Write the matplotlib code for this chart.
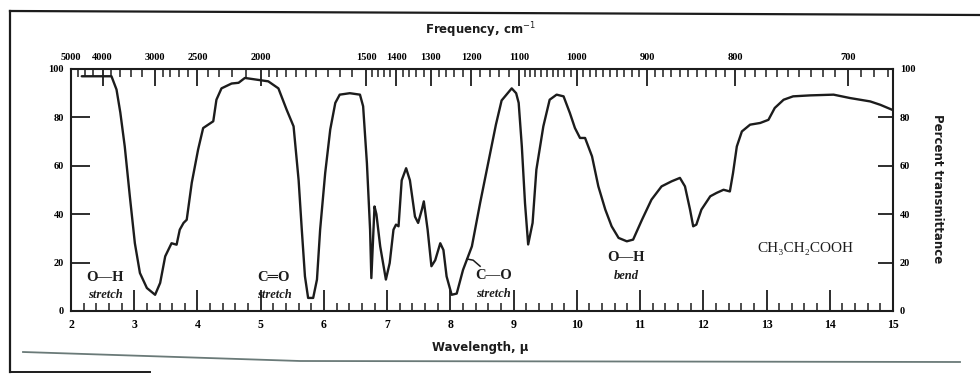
import numpy as np
import matplotlib
matplotlib.use("Agg")
import matplotlib.pyplot as plt
from matplotlib.lines import Line2D

# IR spectrum of propanoic acid
wavelength = [
    2.17, 2.40, 2.64, 2.72, 2.78, 2.85, 2.93, 3.01, 3.09, 3.20,
    3.33, 3.41, 3.49, 3.59, 3.67, 3.72, 3.78, 3.83, 3.91, 4.01,
    4.09, 4.17, 4.25, 4.30, 4.38, 4.54, 4.65, 4.75, 4.94, 5.12,
    5.28, 5.41, 5.52, 5.60, 5.65, 5.70, 5.75, 5.83, 5.89, 5.94,
    6.02, 6.10, 6.18, 6.25, 6.41, 6.57, 6.62, 6.68, 6.73, 6.75,
    6.80, 6.83, 6.89, 6.98, 7.04, 7.10, 7.14, 7.18, 7.23, 7.30,
    7.36, 7.44, 7.49, 7.55, 7.58, 7.64, 7.70, 7.76, 7.84, 7.89,
    7.94, 8.02, 8.10, 8.20, 8.34, 8.47, 8.63, 8.72, 8.81, 8.97,
    9.04, 9.08, 9.13, 9.18, 9.23, 9.30, 9.36, 9.47, 9.57, 9.68,
    9.79, 9.89, 9.97, 10.05, 10.13, 10.24, 10.34, 10.45, 10.55, 10.66,
    10.79, 10.89, 11.03, 11.18, 11.34, 11.50, 11.63, 11.71, 11.79, 11.84,
    11.89, 11.97, 12.11, 12.21, 12.32, 12.42, 12.47, 12.53, 12.61, 12.74,
    12.90, 13.03, 13.13, 13.27, 13.42, 13.69, 14.06, 14.32, 14.64, 14.80,
    15.0,
]
transmittance = [
    97.0, 97.0, 97.0, 91.5, 82.0, 68.0, 47.5, 28.0, 15.7, 9.5,
    6.7, 11.6, 22.6, 28.0, 27.4, 33.6, 36.4, 37.7, 53.0, 66.7,
    75.6, 77.0, 78.4, 87.3, 92.0, 94.0, 94.3, 96.3, 95.6, 94.9,
    92.0, 83.2, 76.3, 54.0, 33.6, 14.3, 5.4, 5.4, 13.0, 33.6,
    57.0, 75.0, 86.0, 89.4, 90.0, 89.4, 84.6, 61.0, 33.6, 13.6,
    43.2, 40.0, 26.7, 13.0, 19.8, 33.6, 35.7, 35.0, 54.0, 59.0,
    54.0, 39.0, 36.4, 42.0, 45.3, 33.6, 18.5, 21.0, 28.0, 25.2,
    14.3, 6.7, 7.2, 17.0, 26.7, 44.6, 65.3, 77.0, 87.0, 92.0,
    90.0, 86.0, 68.0, 44.6, 27.5, 36.4, 58.4, 76.3, 87.3, 89.4,
    88.7, 81.8, 75.6, 71.5, 71.5, 63.9, 51.5, 41.9, 35.0, 30.2,
    28.8, 29.5, 37.7, 46.0, 51.5, 53.6, 55.0, 51.5, 41.9, 35.0,
    35.7, 41.9, 47.4, 48.8, 50.1, 49.4, 57.0, 68.0, 74.2, 77.0,
    77.7, 79.0, 83.9, 87.3, 88.7, 89.1, 89.4, 88.0, 86.6, 85.2,
    83.0,
]

# top scale in wavenumbers
freq_major = [5000, 4000, 3000, 2500, 2000, 1500, 1400, 1300, 1200,
              1100, 1000, 900, 800, 700]
freq_minor = ([4750, 4500, 4250, 3800, 3600, 3400, 3200]
              + list(range(2900, 2500, -100)) + list(range(2400, 2000, -100))
              + list(range(1950, 1500, -50))
              + [1480, 1460, 1440, 1420, 1380, 1360, 1340, 1320,
                 1280, 1260, 1240, 1220, 1180, 1160, 1140, 1120]
              + list(range(1090, 1000, -10)) + list(range(990, 900, -10))
              + list(range(890, 800, -10)) + list(range(790, 700, -10))
              + [690, 680, 670])

ink = "#1c1c1c"
serif = ["Liberation Serif", "DejaVu Serif"]

fig = plt.figure(figsize=(9.8, 3.74), dpi=100)
fig.patch.set_facecolor("white")
W, H = 980, 374
ax = fig.add_axes([71 / W, 1 - 311 / H, (893 - 71) / W, (311 - 69) / H])

ax.plot(wavelength, transmittance, color=ink, lw=1.7,
        solid_joinstyle="round", solid_capstyle="round")
ax.set_xlim(2, 15)
ax.set_ylim(0, 100)

for s in ax.spines.values():
    s.set_linewidth(1.5)
    s.set_color(ink)

# bottom wavelength scale
ax.set_xticks(np.arange(2, 16, 1))
ax.set_xticks(np.arange(2, 15.01, 0.2), minor=True)
ax.tick_params(axis="x", which="major", direction="in", length=15, width=1.3,
               color=ink, pad=6, labelsize=8.5)
ax.tick_params(axis="x", which="minor", direction="in", length=6, width=1.1,
               color=ink)
for lab in ax.get_xticklabels():
    lab.set_fontfamily(serif)
    lab.set_fontweight("bold")

# percent transmittance on both sides
ax.set_yticks([0, 20, 40, 60, 80, 100])
ax.tick_params(axis="y", which="both", direction="in", length=14, width=1.3,
               color=ink, pad=5, labelsize=7.5, left=True, right=True,
               labelleft=True, labelright=True)
for lab in ax.get_yticklabels(which="both"):
    lab.set_fontfamily(serif)
    lab.set_fontweight("bold")
for t in ax.yaxis.get_major_ticks():
    t.tick2line.set_markersize(11)

# top frequency scale
top = ax.twiny()
top.set_xlim(ax.get_xlim())
top.set_xticks([1e4 / f for f in freq_major])
top.set_xticklabels([str(f) for f in freq_major])
top.set_xticks([1e4 / f for f in freq_minor], minor=True)
top.tick_params(axis="x", which="major", direction="in", length=12, width=1.3,
                color=ink, pad=5, labelsize=7.5)
top.tick_params(axis="x", which="minor", direction="in", length=6, width=1.1,
                color=ink)
for lab in top.get_xticklabels():
    lab.set_fontfamily(serif)
    lab.set_fontweight("bold")
for s in top.spines.values():
    s.set_visible(False)

fig.text(480 / W, 1 - 30 / H, "Frequency, cm$^{-1}$", ha="center", va="center",
         fontsize=8.5, fontweight="bold", color=ink, family="DejaVu Sans")
fig.text(480 / W, 1 - 347 / H, "Wavelength, \u03bc", ha="center", va="center",
         fontsize=8.5, fontweight="bold", color=ink, family="DejaVu Sans")
fig.text(937 / W, 1 - 189 / H, "Percent transmittance", ha="center",
         va="center", rotation=-90, fontsize=8.5, fontweight="bold", color=ink,
         family="DejaVu Sans")

# band assignments
def band(x, y, name, kind):
    ax.text(x, y, name, ha="center", va="center", fontsize=10.5,
            family=serif, fontweight="bold", color=ink)
    ax.text(x, y - 7.5, kind, ha="center", va="center", fontsize=9,
            family=serif, style="italic", fontweight="bold", color=ink)

band(2.54, 14.0, "O\u2014H", "stretch")
band(5.21, 14.0, "C\u2550O", "stretch")
band(8.68, 14.5, "C\u2014O", "stretch")
band(10.78, 22.0, "O\u2014H", "bend")
ax.plot([8.26, 8.36, 8.47], [21.5, 21.0, 18.5], color=ink, lw=1.1)
ax.text(13.62, 26.0, "CH\u2083CH\u2082COOH", ha="center", va="center",
        fontsize=11, family=serif, color=ink)

# page border and rule from the printed sheet
def fig_line(xs, ys, **kw):
    fig.add_artist(Line2D([x / W for x in xs], [1 - y / H for y in ys],
                          transform=fig.transFigure, **kw))

fig_line([10, 10], [11, 372], color=ink, lw=1.6)
fig_line([10, 980], [11, 15], color=ink, lw=1.6)
fig_line([10, 150], [372, 372], color=ink, lw=1.4)
fig_line([23, 300, 960], [352, 361, 362], color="#6a7a78", lw=1.3)

fig.savefig("out.png", dpi=100, facecolor="white")
